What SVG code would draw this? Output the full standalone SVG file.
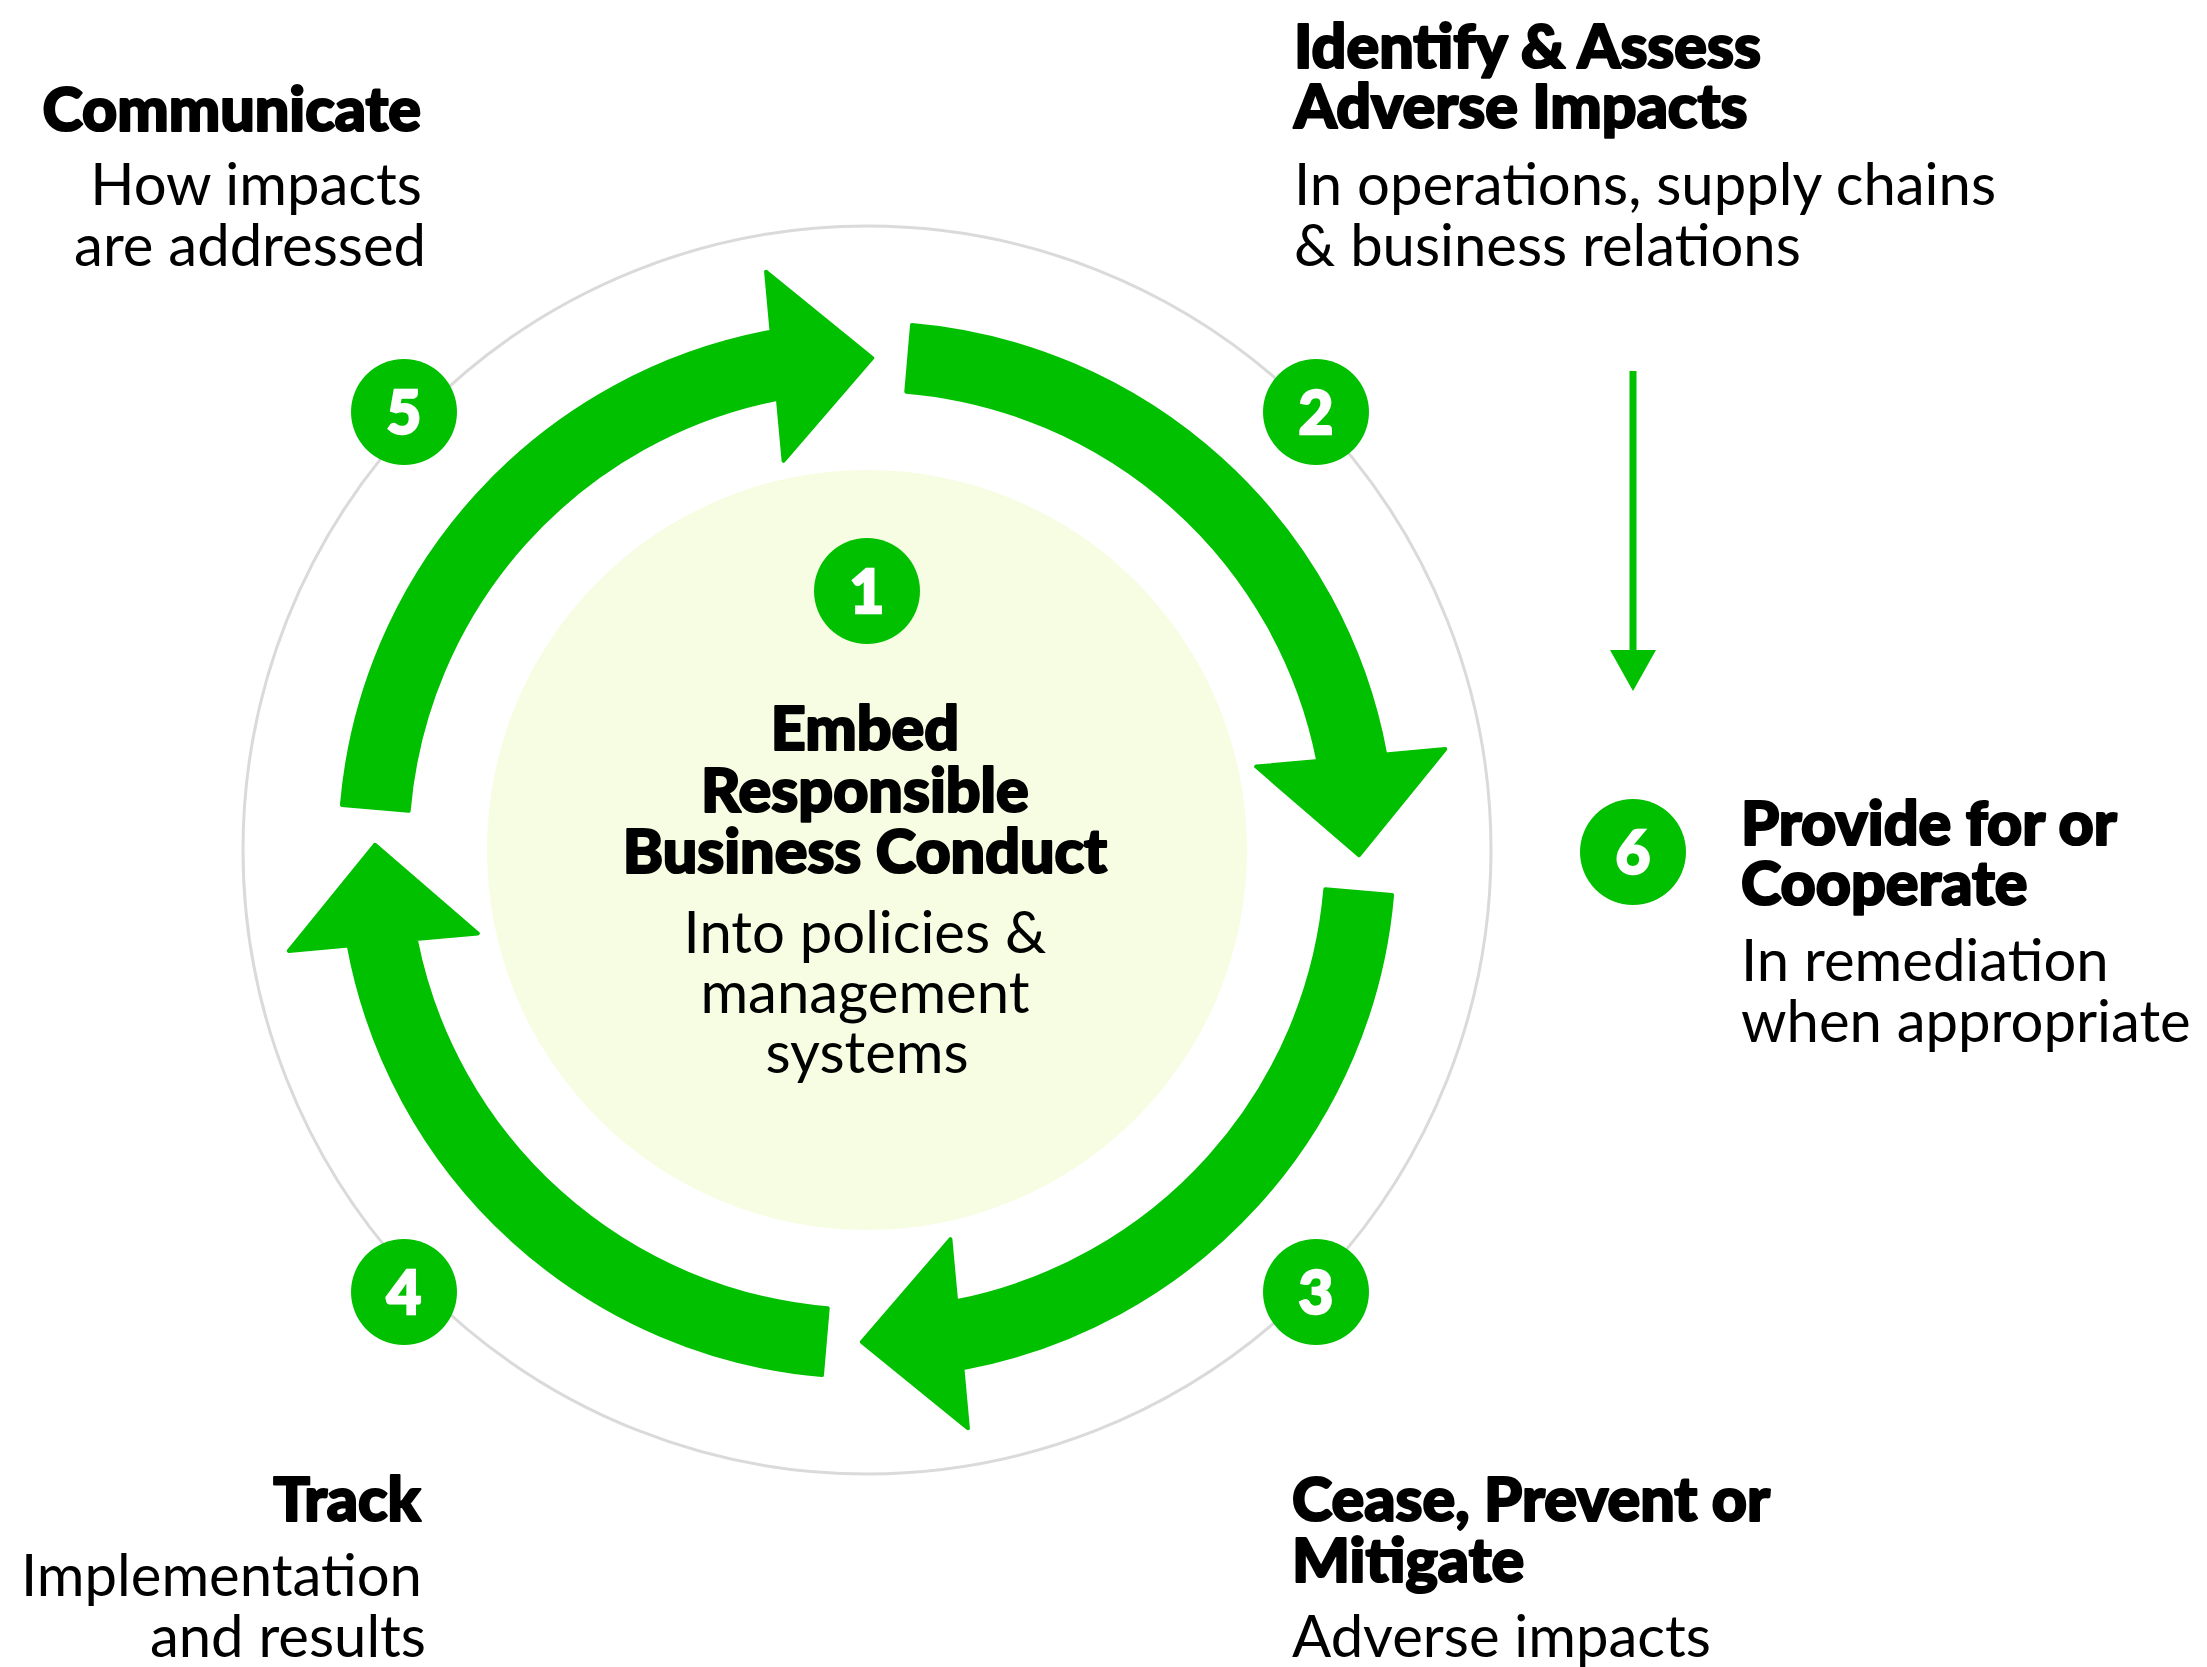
<svg xmlns="http://www.w3.org/2000/svg" xmlns:xlink="http://www.w3.org/1999/xlink" width="2207" height="1667" viewBox="0 0 2207 1667">
  <style>
    text { font-family: Lato, "Liberation Sans", sans-serif; fill: #000; }
    .head { font-weight: 900; font-size: 61px; stroke: #000; stroke-width: 2.2px; stroke-linejoin: round; }
    .body { font-weight: 400; font-size: 58px; stroke: none; }
    .num { font-weight: 900; font-size: 60px; fill: #fff; stroke: #fff; stroke-width: 2.4px; text-anchor: middle; }
    .badge { fill: #00c000; }
    .end { text-anchor: end; }
    .mid { text-anchor: middle; }
    .loop { fill: #00c000; stroke: #00c000; stroke-width: 4; stroke-linejoin: round; }
  </style>
  <defs>
    <!-- one quarter of the cycle: arc shaft ending in a wide arrowhead at 12 o'clock -->
    <path id="quarter" d="M 341.93 804.98 A 527 527 0 0 1 771.59 331.71 L 766.1 271.7 L 872.2 358.0 L 783.6 460.8 L 777.88 398.72 A 460 460 0 0 0 408.68 810.71 Z"/>
  </defs>

  <rect width="2207" height="1667" fill="#fff"/>

  <!-- background rings -->
  <circle cx="867" cy="850" r="624" fill="none" stroke="#dadada" stroke-width="3"/>
  <circle cx="867" cy="850" r="380" fill="#f6fde2"/>

  <!-- cycle arrows and the side arrow to step 6 -->
  <g id="connectors">
    <use xlink:href="#quarter" class="loop"/>
    <use xlink:href="#quarter" class="loop" transform="rotate(90 867 850)"/>
    <use xlink:href="#quarter" class="loop" transform="rotate(180 867 850)"/>
    <use xlink:href="#quarter" class="loop" transform="rotate(270 867 850)"/>
    <line x1="1633" y1="371" x2="1633" y2="655" stroke="#00c000" stroke-width="7"/>
    <polygon points="1610,650 1656,650 1633,691" fill="#00c000"/>
  </g>

  <!-- step 1: centre -->
  <g id="step1">
    <circle class="badge" cx="867" cy="591" r="53"/>
    <text class="num" x="867" y="613">1</text>
    <text class="mid">
      <tspan class="head" x="867" y="750">Embed</tspan>
      <tspan class="head" x="867" y="812">Responsible</tspan>
      <tspan class="head" x="867" y="873">Business Conduct</tspan>
      <tspan class="body" x="867" y="953">Into policies &amp;</tspan>
      <tspan class="body" x="867" y="1013">management</tspan>
      <tspan class="body" x="867" y="1073">systems</tspan>
    </text>
  </g>

  <!-- step 2 -->
  <g id="step2">
    <circle class="badge" cx="1316" cy="412" r="53"/>
    <text class="num" x="1316" y="434">2</text>
    <text>
      <tspan class="head" x="1294" y="68">Identify &amp; Assess</tspan>
      <tspan class="head" x="1294" y="128">Adverse Impacts</tspan>
      <tspan class="body" x="1294" y="205">In operations, supply chains</tspan>
      <tspan class="body" x="1294" y="266">&amp; business relations</tspan>
    </text>
  </g>

  <!-- step 3 -->
  <g id="step3">
    <circle class="badge" cx="1316" cy="1292" r="53"/>
    <text class="num" x="1316" y="1314">3</text>
    <text>
      <tspan class="head" x="1292" y="1521">Cease, Prevent or</tspan>
      <tspan class="head" x="1292" y="1582">Mitigate</tspan>
      <tspan class="body" x="1292" y="1657">Adverse impacts</tspan>
    </text>
  </g>

  <!-- step 4 -->
  <g id="step4">
    <circle class="badge" cx="404" cy="1292" r="53"/>
    <text class="num" x="404" y="1314">4</text>
    <text class="end">
      <tspan class="head" x="425" y="1521">Track</tspan>
      <tspan class="body" x="426" y="1596">Implementation</tspan>
      <tspan class="body" x="426" y="1657">and results</tspan>
    </text>
  </g>

  <!-- step 5 -->
  <g id="step5">
    <circle class="badge" cx="404" cy="412" r="53"/>
    <text class="num" x="404" y="434">5</text>
    <text class="end">
      <tspan class="head" x="425" y="131">Communicate</tspan>
      <tspan class="body" x="426" y="205">How impacts</tspan>
      <tspan class="body" x="426" y="266">are addressed</tspan>
    </text>
  </g>

  <!-- step 6 -->
  <g id="step6">
    <circle class="badge" cx="1633" cy="852" r="53"/>
    <text class="num" x="1633" y="874">6</text>
    <text>
      <tspan class="head" x="1741" y="845">Provide for or</tspan>
      <tspan class="head" x="1741" y="905">Cooperate</tspan>
      <tspan class="body" x="1741" y="981">In remediation</tspan>
      <tspan class="body" x="1741" y="1042">when appropriate</tspan>
    </text>
  </g>
</svg>
